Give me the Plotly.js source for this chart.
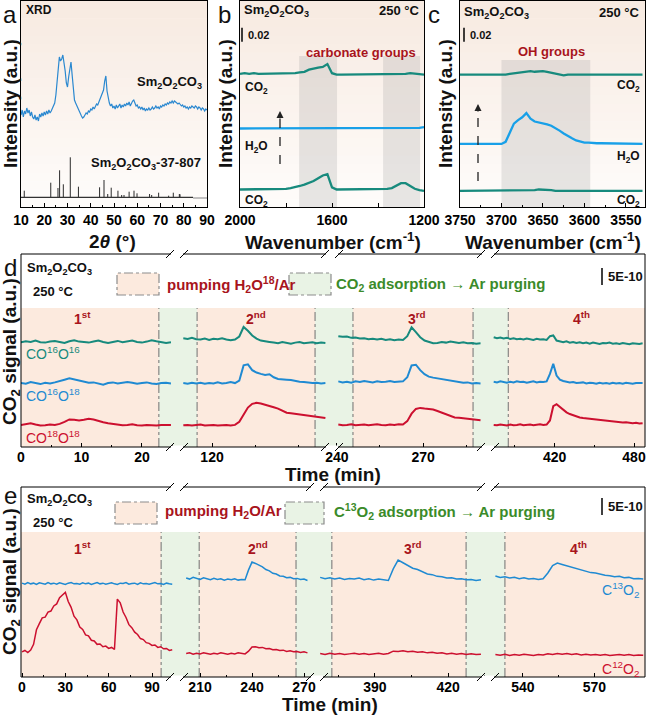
<!DOCTYPE html>
<html>
<head>
<meta charset="utf-8">
<script src="https://cdn.plot.ly/plotly-3.0.1.min.js"></script>
<style>
  html, body { margin: 0; padding: 0; background: #fff; }
  #chart { width: 646px; height: 715px; }
</style>
</head>
<body>
<div id="chart"></div>
<script>
// ---------- data ----------

// (a) XRD, 2theta 10..90 step 0.5
const xrdStart = 10, xrdStep = 0.5;
const xrdInt = [
  92, 97, 90, 96, 93, 99, 94, 97, 91, 95,
  90, 88, 92, 87, 90, 86, 93, 90, 94, 91,
  95, 92, 96, 93, 97, 94, 96, 99, 100, 104,
  112, 126, 142, 150, 146, 148, 152, 146, 136, 124,
  120, 130, 141, 145, 132, 115, 107, 104, 101, 98,
  96, 93, 91, 89, 90, 92, 94, 93, 96, 95,
  98, 97, 100, 98, 101, 103, 102, 105, 107, 109,
  113, 117, 126, 131, 116, 108, 104, 101, 103, 99,
  101, 98, 102, 99, 101, 103, 99, 102, 100, 103,
  101, 104, 102, 105, 101, 104, 106, 107, 103, 101,
  102, 99, 100, 98, 100, 97, 99, 96, 98, 97,
  99, 97, 98, 100, 98, 99, 101, 99, 100, 98,
  101, 100, 102, 101, 103, 102, 104, 103, 105, 104,
  106, 104, 106, 105, 104, 103, 104, 102, 101, 102,
  100, 101, 99, 100, 98, 100, 99, 101, 100, 99,
  101, 100, 98, 100, 99, 97, 99, 98, 96, 98,
  97
];
// reference card 37-807
const refPos = [11.4, 22.8, 25.9, 26.6, 28.2, 31.2, 34.7, 43.8, 45.7, 47.3, 48.8, 51.7,
                53.3, 54.3, 56.5, 58.6, 59.9, 65.3, 66.2, 69.2, 73.5, 75.5, 78.1, 78.4];
const refHeight = [6.6, 14.6, 9.3, 27, 13, 40, 10.6, 10, 17.3, 3.3, 9.6, 6.6,
                   2.3, 2.3, 5.6, 6.6, 4, 3.3, 2.3, 4.6, 1.6, 4.6, 3.3, 3];
const refBase = 9.7;
const refLineEnd = 84;

// (b) DRIFTS 2000..1200 cm-1 step 20
const bStart = 2000, bStep = -20;
const bCO2Top = [
  0.190, 0.191, 0.190, 0.191, 0.190, 0.190, 0.191, 0.190, 0.191, 0.190,
  0.191, 0.190, 0.191, 0.192, 0.193, 0.196, 0.198, 0.199, 0.200, 0.204,
  0.191, 0.189, 0.189, 0.189, 0.189, 0.189, 0.189, 0.189, 0.189, 0.189,
  0.189, 0.189, 0.189, 0.189, 0.189, 0.189, 0.190, 0.191, 0.190, 0.189,
  0.189
];
const bH2O = [
  0.112, 0.112, 0.112, 0.112, 0.112, 0.112, 0.112, 0.112, 0.112, 0.112,
  0.112, 0.112, 0.112, 0.112, 0.112, 0.112, 0.112, 0.112, 0.112, 0.112,
  0.112, 0.112, 0.112, 0.112, 0.112, 0.112, 0.112, 0.112, 0.112, 0.112,
  0.112, 0.112, 0.112, 0.112, 0.112, 0.112, 0.112, 0.112, 0.113, 0.113,
  0.114
];
const bCO2Bottom = [
  0.025, 0.025, 0.026, 0.025, 0.025, 0.025, 0.026, 0.025, 0.025, 0.026,
  0.026, 0.027, 0.028, 0.030, 0.032, 0.034, 0.037, 0.041, 0.045, 0.047,
  0.028, 0.025, 0.025, 0.025, 0.025, 0.025, 0.025, 0.025, 0.025, 0.025,
  0.025, 0.025, 0.026, 0.027, 0.030, 0.034, 0.034, 0.030, 0.026, 0.024,
  0.023
];
const bBands = [[1743, 1578], [1378, 1217]];

// (c) DRIFTS 3750..3530 cm-1 step 5
const cStart = 3750, cStep = -5;
const cCO2Top = [
  0.189, 0.189, 0.188, 0.189, 0.189, 0.189, 0.188, 0.189, 0.189, 0.189,
  0.189, 0.189, 0.190, 0.191, 0.192, 0.193, 0.194, 0.194, 0.193, 0.194,
  0.194, 0.193, 0.192, 0.190, 0.189, 0.188, 0.189, 0.189, 0.188, 0.189,
  0.189, 0.189, 0.189, 0.188, 0.189, 0.189, 0.189, 0.189, 0.189, 0.189,
  0.189, 0.189, 0.189, 0.189, 0.189
];
const cH2O = [
  0.090, 0.090, 0.090, 0.090, 0.090, 0.090, 0.090, 0.090, 0.090, 0.090,
  0.090, 0.093, 0.107, 0.119, 0.124, 0.128, 0.134, 0.126, 0.122, 0.121,
  0.120, 0.118, 0.116, 0.113, 0.109, 0.105, 0.101, 0.098, 0.095, 0.093,
  0.092, 0.092, 0.091, 0.091, 0.091, 0.091, 0.091, 0.090, 0.090, 0.090,
  0.090, 0.090, 0.090, 0.090, 0.090
];
const cCO2Bottom = [
  0.023, 0.023, 0.023, 0.023, 0.023, 0.023, 0.023, 0.023, 0.023, 0.023,
  0.023, 0.023, 0.023, 0.023, 0.023, 0.023, 0.023, 0.024, 0.024, 0.025,
  0.025, 0.024, 0.024, 0.023, 0.023, 0.023, 0.023, 0.023, 0.023, 0.023,
  0.023, 0.023, 0.023, 0.023, 0.023, 0.023, 0.023, 0.023, 0.023, 0.023,
  0.023, 0.023, 0.023, 0.023, 0.023
];
const cBand = [3700, 3593];

// (d) MS signal, 1E-10 units, H2O18 pumping
const dSeg1 = { t0: 0, dt: 0.8 };
const dTeal1 = [30.8, 31.1, 30.9, 31.3, 30.8, 30.7, 31.0, 31.2, 30.9, 30.6, 31.1, 31.4, 31.0, 30.8, 30.7, 31.0,
                31.3, 30.9, 30.6, 30.9, 31.2, 30.8, 31.0, 31.3, 30.9, 30.7, 31.0, 31.4, 31.1, 30.8, 30.6, 30.8];
const dBlue1 = [18.8, 18.6, 19.1, 18.7, 18.5, 18.9, 18.7, 19.0, 19.3, 19.8, 20.2, 19.9, 19.4, 19.1, 18.9, 19.0,
                18.6, 18.3, 18.8, 19.0, 18.7, 18.8, 19.1, 18.9, 18.6, 18.8, 19.0, 18.7, 18.5, 18.8, 18.9, 18.7];
const dRed1 = [6.5, 6.7, 7.0, 6.6, 6.3, 6.4, 6.6, 6.5, 6.8, 7.4, 8.1, 8.0, 7.8, 8.0, 8.3, 8.1,
               7.6, 7.3, 7.0, 6.8, 6.6, 6.4, 6.5, 6.7, 6.4, 6.3, 6.5, 6.4, 6.3, 6.5, 6.4, 6.5];
const dSeg2 = { t0: 110, dt: 1.5 };
const dTeal2 = [32.0, 31.8, 32.1, 31.7, 31.6, 31.9, 31.5, 31.8, 31.7, 32.0, 31.6, 31.4, 31.6, 32.5, 35.3, 34.2, 32.8,
                31.9, 31.3, 31.2, 30.9, 30.7, 30.5, 30.9, 30.6, 30.4, 30.7, 30.9, 30.5, 30.6, 30.8, 30.5, 30.7, 30.6];
const dBlue2 = [18.8, 18.6, 18.9, 18.7, 18.9, 18.6, 18.8, 18.7, 19.0, 18.7, 18.8, 19.1, 18.8, 19.5, 24.0, 24.3, 22.6,
                21.9, 21.5, 21.2, 21.4, 20.5, 20.0, 20.0, 19.8, 19.7, 19.4, 19.2, 19.1, 18.9, 18.8, 18.9, 18.7, 18.8];
const dRed2 = [6.4, 6.5, 6.3, 6.4, 6.6, 6.3, 6.4, 6.5, 6.3, 6.4, 6.5, 6.3, 6.5, 7.4, 9.6, 11.6, 12.7,
               13.0, 12.8, 12.5, 12.2, 11.7, 11.3, 10.7, 10.1, 9.9, 9.7, 9.5, 9.3, 9.2, 8.9, 8.8, 8.6, 8.5];
const dSeg3 = { t0: 240.5, dt: 1.5 };
const dTeal3 = [32.6, 32.4, 32.5, 32.1, 32.2, 31.9, 32.0, 31.7, 31.8, 31.6, 31.8, 31.5, 31.7, 31.4, 31.6, 31.5, 32.6,
                35.2, 33.8, 32.3, 31.3, 30.8, 30.5, 30.6, 30.9, 30.7, 31.0, 30.8, 30.6, 30.8, 30.5, 30.6, 30.4, 30.5];
const dBlue3 = [19.3, 19.0, 19.2, 18.9, 19.3, 19.1, 19.4, 19.2, 19.0, 19.3, 19.1, 19.2, 19.4, 19.1, 19.2, 19.3, 20.5,
                24.0, 24.2, 22.6, 21.4, 20.7, 20.4, 20.2, 19.9, 19.7, 19.5, 19.3, 19.1, 18.9, 19.0, 18.7, 18.8, 18.7];
const dRed3 = [6.6, 6.4, 6.5, 6.7, 6.4, 6.5, 6.6, 6.4, 6.5, 6.7, 6.5, 6.4, 6.6, 6.5, 6.7, 6.6, 7.6,
               9.8, 11.2, 11.5, 11.3, 11.2, 11.0, 10.6, 10.1, 9.6, 9.0, 8.7, 8.6, 8.5, 8.4, 8.3, 8.0, 7.9];
const dSeg4 = { t0: 374, dt: 2.5 };
const dTeal4 = [32.3, 32.0, 32.2, 31.9, 32.1, 31.8, 32.0, 31.7, 31.8, 31.6, 31.9, 31.7, 31.5, 31.8, 31.6, 31.7,
                31.5, 32.6, 32.8, 31.3, 31.0, 30.8, 31.1, 30.7, 30.9, 30.6, 30.8, 30.5, 30.7, 30.4, 30.7, 30.6,
                30.3, 30.6, 30.5, 30.7, 30.4, 30.5, 30.3, 30.6, 30.4, 30.2, 30.5, 30.4, 30.3, 30.5];
const dBlue4 = [19.2, 19.0, 19.3, 19.1, 18.9, 19.2, 19.0, 19.3, 19.1, 19.2, 18.9, 19.1, 19.3, 19.0, 19.2, 19.1,
                19.3, 21.5, 24.5, 21.0, 19.8, 19.4, 19.2, 19.0, 19.1, 18.8, 18.9, 19.0, 18.7, 18.9, 18.8, 18.6,
                18.9, 18.7, 18.8, 18.6, 18.9, 18.7, 18.8, 18.6, 18.9, 18.7, 18.6, 18.8, 18.7, 18.8];
const dRed4 = [6.5, 6.4, 6.6, 6.5, 6.3, 6.6, 6.4, 6.5, 6.7, 6.4, 6.5, 6.6, 6.4, 6.5, 6.7, 6.5,
               6.6, 7.8, 12.0, 12.6, 11.7, 10.8, 10.2, 9.7, 9.3, 9.0, 8.7, 8.5, 8.4, 8.2, 8.0, 7.9,
               7.8, 7.7, 7.6, 7.5, 7.4, 7.5, 7.3, 7.2, 7.3, 7.1, 7.0, 7.1, 6.9, 7.0];
const dRanges = [[0, 25.8], [107.8, 161.8], [238.3, 292.6], [369.7, 488.3]];
const dSwitch = [[22.8], [114.8, 155.9], [245.6, 287.4], [385]];
const dTicks = [[0, 10, 20], [120], [240, 270], [420, 480]];
const dMinor = [[5, 15, 25], [135, 150], [255, 285], [390, 450]];

// (e) MS signal, 1E-10 units, C13O2 exchange
const eSeg1 = { t0: 0, dt: 2 };
const eBlue1 = [27.6, 27.3, 27.8, 27.4, 27.6, 27.2, 27.7, 27.5, 27.3, 27.8, 27.4, 27.6, 27.3, 27.7, 27.5, 27.2, 27.6, 27.8,
                27.4, 27.5, 27.3, 27.7, 27.4, 27.6, 27.2, 27.5, 27.8, 27.4, 27.6, 27.3, 27.5, 27.7, 27.4, 27.2, 27.6, 27.5,
                27.8, 27.3, 27.5, 27.6, 27.2, 27.7, 27.4, 27.5, 27.3, 27.6, 27.8, 27.4, 27.5, 27.2, 27.6, 27.4, 27.3];
const eRed1 = [7.4, 7.8, 7.2, 7.9, 9.6, 13.9, 15.7, 17.4, 17.6, 19.1, 19.4, 20.9, 21.5, 23.3, 24.1, 24.9, 22.2, 20.5,
               17.9, 16.8, 14.7, 14.0, 12.4, 12.1, 10.8, 10.6, 9.6, 9.7, 8.9, 9.1, 8.4, 8.7, 8.1, 22.9, 21.8, 19.1,
               17.5, 15.4, 14.5, 13.2, 12.5, 11.3, 11.0, 10.1, 9.9, 9.3, 9.4, 8.7, 8.9, 8.3, 8.4, 7.8, 8.0];
const eSeg2 = { t0: 202, dt: 2 };
const eBlue2 = [29.1, 28.8, 29.3, 28.9, 28.7, 29.2, 28.8, 28.6, 29.0, 28.7, 28.9, 28.5, 28.8, 28.6, 28.9, 28.5, 28.7, 28.6,
                31.5, 33.8, 33.4, 32.9, 32.4, 31.6, 31.2, 30.5, 30.3, 29.7, 29.6, 29.2, 29.3, 28.9, 29.0, 28.7, 28.8, 28.4];
const eRed2 = [6.9, 7.1, 6.7, 7.0, 6.8, 7.1, 6.9, 6.7, 7.0, 6.8, 7.1, 6.9, 6.7, 7.0, 6.8, 7.1, 6.9, 6.8,
               7.6, 8.8, 8.9, 8.6, 8.7, 8.3, 8.4, 8.0, 8.1, 7.8, 7.9, 7.5, 7.7, 7.4, 7.5, 7.2, 7.4, 7.1];
const eSeg3 = { t0: 367.5, dt: 2 };
const eBlue3 = [29.3, 28.9, 29.2, 28.8, 29.1, 28.7, 29.0, 28.8, 29.1, 28.6, 28.9, 28.5, 28.8, 28.6, 28.4, 31.8, 34.4,
                33.6, 32.9, 32.0, 31.6, 31.0, 30.3, 30.1, 29.6, 29.5, 29.1, 29.2, 28.8, 28.9, 28.6, 28.7, 28.4, 28.6];
const eRed3 = [6.9, 6.6, 7.0, 6.7, 6.9, 6.6, 6.8, 7.0, 6.7, 6.9, 6.6, 6.8, 7.0, 6.7, 6.9, 7.6, 7.5,
               7.7, 7.4, 7.6, 7.3, 7.4, 7.1, 7.3, 7.0, 7.1, 6.8, 7.0, 6.7, 6.9, 6.6, 6.8, 6.6, 6.7];
const eSeg4 = { t0: 528.5, dt: 2 };
const eBlue4 = [29.7, 29.3, 29.5, 29.1, 29.3, 28.9, 29.2, 28.8, 29.0, 28.7, 28.9, 30.6, 32.8, 33.5, 33.1, 32.7,
                32.1, 31.9, 31.4, 31.1, 30.7, 30.6, 30.2, 29.9, 29.8, 29.5, 29.6, 29.2, 29.3, 28.9, 29.0, 28.8];
const eRed4 = [6.6, 6.4, 6.7, 6.3, 6.6, 6.4, 6.7, 6.5, 6.3, 6.6, 6.5, 6.8, 6.6, 6.9, 6.7, 6.9,
               6.6, 6.8, 6.5, 6.7, 6.5, 6.6, 6.4, 6.6, 6.3, 6.5, 6.6, 6.4, 6.6, 6.3, 6.5, 6.4];
const eRanges = [[-0.7, 107.3], [196.7, 277.5], [366.2, 436.4], [525.4, 591.25]];
const eSwitch = [[96.3], [209.5, 265.4], [372.3, 427.4], [532.5]];
const eTicks = [[0, 30, 60, 90], [210, 240, 270], [390, 420], [540, 570]];
const eMinor = [[15, 45, 75], [225, 255], [375, 405, 435], [555]];

// ---------- page geometry ----------
const W = 646, H = 715, ML = 21, MR = 1, MT = 1, MB = 38;
const PW = W - ML - MR, PH = H - MT - MB;
const px = x => (x - ML) / PW;
const py = y => (H - MB - y) / PH;
const grid = (t0, dt, vals) => vals.map((_, i) => +(t0 + i * dt).toFixed(3));

const FONT = 'Liberation Sans, Arial, Helvetica, sans-serif';
const DARKRED = '#a8141c', GREEN = '#3b8b2a', TEAL = '#178a7d', BLUE = '#1f8ad2', LBLUE = '#18a0e8', RED = '#cc102f';
const PINK = 'rgb(252,234,222)', MINT = 'rgb(233,243,229)';
const TICKFONT = { family: FONT, size: 14, weight: 'bold', color: '#000' };

// ---------- traces ----------
const traces = [];
function line(x, y, xa, ya, color, width) {
    traces.push({ type: 'scatter', mode: 'lines', x, y, xaxis: xa, yaxis: ya,
                  line: { color, width }, hoverinfo: 'skip', showlegend: false });
}

// a
line(grid(xrdStart, xrdStep, xrdInt), xrdInt, 'x', 'y', '#2a88d0', 1.2);
const sx = [], sy = [];
refPos.forEach((p, i) => { sx.push(p, p, null); sy.push(refBase, refBase + refHeight[i], null); });
line(sx, sy, 'x', 'y', '#2b2b2b', 1);
line([10, refLineEnd], [refBase, refBase], 'x', 'y', '#333', 1.2);
line([refLineEnd, 90], [refBase - 0.7, refBase - 0.7], 'x', 'y', '#9a9a9a', 1.2);

// b
const bWave = grid(bStart, bStep, bCO2Top);
line(bWave, bCO2Top, 'x2', 'y2', TEAL, 2.3);
line(bWave, bH2O, 'x2', 'y2', LBLUE, 2.3);
line(bWave, bCO2Bottom, 'x2', 'y2', TEAL, 2.3);

// c
const cWave = grid(cStart, cStep, cH2O);
line(cWave, cCO2Top, 'x3', 'y3', TEAL, 2.3);
line(cWave, cH2O, 'x3', 'y3', LBLUE, 2.3);
line(cWave, cCO2Bottom, 'x3', 'y3', TEAL, 2.3);

// d
const dSegs = [
    [dSeg1, dTeal1, dBlue1, dRed1], [dSeg2, dTeal2, dBlue2, dRed2],
    [dSeg3, dTeal3, dBlue3, dRed3], [dSeg4, dTeal4, dBlue4, dRed4]
];
dSegs.forEach(([seg, teal, blue, red], i) => {
    const xa = 'x' + (4 + i);
    line(grid(seg.t0, seg.dt, teal), teal, xa, 'y4', TEAL, 2);
    line(grid(seg.t0, seg.dt, blue), blue, xa, 'y4', BLUE, 2);
    line(grid(seg.t0, seg.dt, red), red, xa, 'y4', RED, 2);
});

// e
const eSegs = [
    [eSeg1, eBlue1, eRed1], [eSeg2, eBlue2, eRed2], [eSeg3, eBlue3, eRed3], [eSeg4, eBlue4, eRed4]
];
eSegs.forEach(([seg, blue, red], i) => {
    const xa = 'x' + (8 + i);
    line(grid(seg.t0, seg.dt, blue), blue, xa, 'y5', BLUE, 1.5);
    line(grid(seg.t0, seg.dt, red), red, xa, 'y5', RED, 1.5);
});

// ---------- axes ----------
const boxAxis = (extra) => Object.assign({
    showline: true, mirror: true, linecolor: '#000', linewidth: 1,
    ticks: 'inside', ticklen: 4, tickcolor: '#000', showgrid: false, zeroline: false,
    tickfont: TICKFONT, fixedrange: true
}, extra);
const hiddenY = (extra) => Object.assign({
    showticklabels: false, ticks: '', showgrid: false, zeroline: false, fixedrange: true
}, extra);
const segAxis = (domain, range, tickvals, minorvals, anchor) => ({
    domain, range, anchor, tickmode: 'array', tickvals, ticks: 'inside', ticklen: 4, tickwidth: 1,
    tickcolor: '#000', showline: false, showgrid: false, zeroline: false, tickfont: TICKFONT,
    minor: { tickmode: 'array', tickvals: minorvals, ticks: 'inside', ticklen: 2.5, tickcolor: '#000' },
    fixedrange: true
});

const topY = [py(207), 1];
const layout = {
    width: W, height: H,
    margin: { l: ML, r: MR, t: MT, b: MB, pad: 0 },
    paper_bgcolor: '#fff', plot_bgcolor: 'rgba(0,0,0,0)',
    font: { family: FONT, color: '#000' },
    showlegend: false,
    xaxis: boxAxis({ domain: [0, px(207)], range: [10, 90], tickmode: 'linear', tick0: 10, dtick: 10, anchor: 'y',
                     minor: { dtick: 5, ticks: 'inside', ticklen: 2.5, tickcolor: '#000' } }),
    yaxis: boxAxis({ domain: topY, range: [0, 206], showticklabels: false, ticks: '', anchor: 'x' }),
    xaxis2: boxAxis({ domain: [px(240), px(424)], range: [2000, 1200], tickmode: 'array',
                      tickvals: [2000, 1800, 1600, 1400, 1200], ticktext: ['2000', '', '1600', '', '1200'], anchor: 'y2' }),
    yaxis2: boxAxis({ domain: topY, range: [0, 0.294], showticklabels: false, ticks: '', anchor: 'x2' }),
    xaxis3: boxAxis({ domain: [px(460), 1], range: [3750, 3527], tickmode: 'array',
                      tickvals: [3750, 3700, 3650, 3600, 3550], anchor: 'y3',
                      minor: { tickmode: 'array', tickvals: [3725, 3675, 3625, 3575], ticks: 'inside', ticklen: 2.5, tickcolor: '#000' } }),
    yaxis3: boxAxis({ domain: topY, range: [0, 0.294], showticklabels: false, ticks: '', anchor: 'x3' }),
    yaxis4: hiddenY({ domain: [py(447), py(254)], range: [0, 56.76], anchor: 'x4' }),
    yaxis5: hiddenY({ domain: [0, py(487)], range: [0, 55.88], anchor: 'x8' })
};
const dDomains = [[0, px(177)], [px(177), px(332)], [px(332), px(488)], [px(488), 1]];
const eDomains = [[0, px(177)], [px(177), px(317)], [px(317), px(488)], [px(488), 1]];
dDomains.forEach((dom, i) => { layout['xaxis' + (4 + i)] = segAxis(dom, dRanges[i], dTicks[i], dMinor[i], 'y4'); });
eDomains.forEach((dom, i) => { layout['xaxis' + (8 + i)] = segAxis(dom, eRanges[i], eTicks[i], eMinor[i], 'y5'); });

// ---------- shapes ----------
const shapes = [];
// warm gradient behind a, b, c
[['x', 'y'], ['x2', 'y2'], ['x3', 'y3']].forEach(([xa, ya]) => {
    const N = 24;
    for (let k = 0; k < N; k++) {
        const f = k / (N - 1);
        const c = `rgb(${Math.round(247 + 7 * f)},${Math.round(234 + 18 * f)},${Math.round(225 + 25 * f)})`;
        shapes.push({ type: 'rect', xref: xa + ' domain', yref: ya + ' domain', x0: 0, x1: 1,
                      y0: Math.max(0, 1 - (k + 1) / N - 0.003), y1: 1 - k / N, fillcolor: c, line: { width: 0 }, layer: 'below' });
    }
});
bBands.forEach(([a, b]) => shapes.push({ type: 'rect', xref: 'x2', yref: 'y2 domain', x0: a, x1: b, y0: 0, y1: 0.733,
    fillcolor: 'rgba(150,150,150,0.22)', line: { width: 0 }, layer: 'below' }));
shapes.push({ type: 'rect', xref: 'x3', yref: 'y3 domain', x0: cBand[0], x1: cBand[1], y0: 0, y1: 0.714,
    fillcolor: 'rgba(150,150,150,0.22)', line: { width: 0 }, layer: 'below' });

// phase shading + dash-dot switch lines
function phases(ranges, switches, firstAxis, yaxis, top) {
    ranges.forEach((rg, i) => {
        const xa = 'x' + (firstAxis + i);
        const edges = [rg[0], ...switches[i], rg[1]];
        let pink = i === 0;
        for (let k = 0; k < edges.length - 1; k++) {
            shapes.push({ type: 'rect', xref: xa, yref: yaxis + ' domain', x0: edges[k], x1: edges[k + 1], y0: 0, y1: top,
                          fillcolor: pink ? PINK : MINT, line: { width: 0 }, layer: 'below' });
            pink = !pink;
        }
        switches[i].forEach(t => shapes.push({ type: 'line', xref: xa, yref: yaxis + ' domain', x0: t, x1: t, y0: 0, y1: top,
                          line: { color: '#707070', width: 1, dash: 'dashdot' }, layer: 'below' }));
    });
}
phases(dRanges, dSwitch, 4, 'y4', 0.72);
phases(eRanges, eSwitch, 8, 'y5', 0.763);

// frames of d and e with axis breaks
function frame(yTop, yBot, breaks) {
    shapes.push({ type: 'rect', xref: 'paper', yref: 'paper', x0: 0, x1: 1, y0: py(yBot), y1: py(yTop),
                  line: { color: '#000', width: 1 }, fillcolor: 'rgba(0,0,0,0)', layer: 'above' });
    breaks.forEach(bx => [yTop, yBot].forEach(y => {
        shapes.push({ type: 'rect', xref: 'paper', yref: 'paper', x0: px(bx - 6), x1: px(bx + 6), y0: py(y + 1.5), y1: py(y - 1.5),
                      fillcolor: '#fff', line: { width: 0 }, layer: 'above' });
        [[-11, -3], [3, 11]].forEach(([a, b]) => shapes.push({ type: 'line', xref: 'paper', yref: 'paper',
            x0: px(bx + a), y0: py(y + 4), x1: px(bx + b), y1: py(y - 4), line: { color: '#000', width: 1 }, layer: 'above' }));
    }));
}
frame(254, 447, [177, 332, 488]);
frame(487, 677, [177, 317, 488]);

// legend boxes
function box(x0, x1, y0, y1, fill) {
    shapes.push({ type: 'rect', xref: 'paper', yref: 'paper', x0: px(x0), x1: px(x1), y0: py(y1), y1: py(y0),
                  fillcolor: fill, line: { color: '#8c8c8c', width: 1.2, dash: 'dashdot' }, layer: 'above' });
}
box(117, 159, 273, 295, PINK); box(289, 331, 273, 295, MINT);
box(115, 157, 502, 524, PINK); box(285, 324, 502, 524, MINT);

// scale bars
const bar = (x, yref, y0, y1) => shapes.push({ type: 'line', xref: 'paper', yref, x0: px(x), x1: px(x), y0, y1,
                                               line: { color: '#000', width: 1.5 }, layer: 'above' });
bar(242, 'y2', 0.236, 0.256);
bar(464, 'y3', 0.236, 0.256);
bar(602, 'y4', 47.65, 52.65);
bar(602, 'y5', 47.65, 52.65);

// dashed arrows in b and c
const dashUp = (x, yFrom, yTo) => shapes.push({ type: 'line', xref: 'paper', yref: 'paper', x0: px(x), x1: px(x),
    y0: py(yFrom), y1: py(yTo), line: { color: '#222', width: 1.3, dash: 'dash' }, layer: 'above' });
dashUp(280, 164, 118);
dashUp(478, 181, 110);

// ---------- text ----------
const ann = [];
function txt(text, x, y, o = {}) {
    ann.push({ text, x: px(x), y: py(y), xref: 'paper', yref: 'paper', showarrow: false,
               xanchor: o.anchor || 'left', yanchor: 'middle', textangle: o.angle || 0,
               font: { family: FONT, size: o.size || 13, weight: o.weight || 'bold', color: o.color || '#111' } });
}
const SM = 'Sm<sub>2</sub>O<sub>2</sub>CO<sub>3</sub>';
// panel letters
txt('a', 10, 14, { anchor: 'center', size: 24, weight: 'normal' });
txt('b', 224, 14, { anchor: 'center', size: 24, weight: 'normal' });
txt('c', 434, 14, { anchor: 'center', size: 24, weight: 'normal' });
txt('d', 10, 267, { anchor: 'center', size: 24, weight: 'normal' });
txt('e', 10, 495, { anchor: 'center', size: 24, weight: 'normal' });
// axis titles
txt('2<i>θ</i> (°)', 112, 241, { anchor: 'center', size: 19 });
txt('Wavenumber (cm<sup>-1</sup>)', 333, 241, { anchor: 'center', size: 19 });
txt('Wavenumber (cm<sup>-1</sup>)', 553, 241, { anchor: 'center', size: 19 });
txt('Time (min)', 333, 474, { anchor: 'center', size: 19 });
txt('Time (min)', 330, 704, { anchor: 'center', size: 19 });
txt('Intensity (a.u.)', 11, 104, { anchor: 'center', size: 19, angle: -90 });
txt('Intensity (a.u.)', 226, 104, { anchor: 'center', size: 19, angle: -90 });
txt('Intensity (a.u.)', 446, 104, { anchor: 'center', size: 19, angle: -90 });
txt('CO<sub>2</sub> signal (a.u.)', 11, 352, { anchor: 'center', size: 19, angle: -90 });
txt('CO<sub>2</sub> signal (a.u.)', 11, 582, { anchor: 'center', size: 19, angle: -90 });
// a
txt('XRD', 24, 10, { size: 12 });
txt(SM, 204, 82, { anchor: 'right', size: 13 });
txt(SM + '-37-807', 203, 164, { anchor: 'right', size: 13 });
// b
txt(SM, 242, 11, { size: 13 });
txt('250 °C', 422, 11, { anchor: 'right', size: 13 });
txt('0.02', 246, 35, { size: 11 });
txt('carbonate groups', 361, 52, { anchor: 'center', size: 13, color: DARKRED });
txt('CO<sub>2</sub>', 243, 88, { size: 12 });
txt('H<sub>2</sub>O', 243, 147, { size: 12 });
txt('CO<sub>2</sub>', 243, 201, { size: 12 });
// c
txt(SM, 462, 12, { size: 13 });
txt('250 °C', 642, 12, { anchor: 'right', size: 13 });
txt('0.02', 468, 35, { size: 11 });
txt('OH groups', 551, 51, { anchor: 'center', size: 13, color: DARKRED });
txt('CO<sub>2</sub>', 642, 86, { anchor: 'right', size: 12 });
txt('H<sub>2</sub>O', 642, 157, { anchor: 'right', size: 12 });
txt('CO<sub>2</sub>', 642, 201, { anchor: 'right', size: 12 });
// d
txt(SM, 25, 268, { size: 13 });
txt('250 °C', 31, 291, { size: 13 });
txt('pumping H<sub>2</sub>O<sup>18</sup>/Ar', 165, 284, { size: 15, color: DARKRED });
txt('CO<sub>2</sub> adsorption → Ar purging', 334, 284, { size: 15, color: GREEN });
txt('5E-10', 606, 276, { size: 13 });
txt('1<sup>st</sup>', 82, 318, { anchor: 'center', size: 14, color: DARKRED });
txt('2<sup>nd</sup>', 256, 318, { anchor: 'center', size: 14, color: DARKRED });
txt('3<sup>rd</sup>', 417, 318, { anchor: 'center', size: 14, color: DARKRED });
txt('4<sup>th</sup>', 581, 318, { anchor: 'center', size: 14, color: DARKRED });
txt('CO<sup>16</sup>O<sup>16</sup>', 24, 353, { size: 14, weight: 'normal', color: TEAL });
txt('CO<sup>16</sup>O<sup>18</sup>', 24, 395, { size: 14, weight: 'normal', color: BLUE });
txt('CO<sup>18</sup>O<sup>18</sup>', 24, 437, { size: 14, weight: 'normal', color: RED });
// e
txt(SM, 25, 500, { size: 13 });
txt('250 °C', 31, 522, { size: 13 });
txt('pumping H<sub>2</sub>O/Ar', 163, 511, { size: 15, color: DARKRED });
txt('C<sup>13</sup>O<sub>2</sub> adsorption → Ar purging', 332, 511, { size: 15, color: GREEN });
txt('5E-10', 606, 507, { size: 13 });
txt('1<sup>st</sup>', 82, 548, { anchor: 'center', size: 14, color: DARKRED });
txt('2<sup>nd</sup>', 258, 548, { anchor: 'center', size: 14, color: DARKRED });
txt('3<sup>rd</sup>', 413, 548, { anchor: 'center', size: 14, color: DARKRED });
txt('4<sup>th</sup>', 578, 548, { anchor: 'center', size: 14, color: DARKRED });
txt('C<sup>13</sup>O<sub>2</sub>', 641, 590, { anchor: 'right', size: 14, weight: 'normal', color: BLUE });
txt('C<sup>12</sup>O<sub>2</sub>', 641, 669, { anchor: 'right', size: 14, weight: 'normal', color: RED });
// arrow heads
[[280, 111], [478, 104]].forEach(([x, y]) => ann.push({ x: px(x), y: py(y), xref: 'paper', yref: 'paper', text: '',
    showarrow: true, ax: 0, ay: 9, arrowhead: 2, arrowsize: 1, arrowwidth: 1.4, arrowcolor: '#222' }));

layout.shapes = shapes;
layout.annotations = ann;

Plotly.newPlot('chart', traces, layout, { staticPlot: true, displayModeBar: false });
</script>
</body>
</html>
